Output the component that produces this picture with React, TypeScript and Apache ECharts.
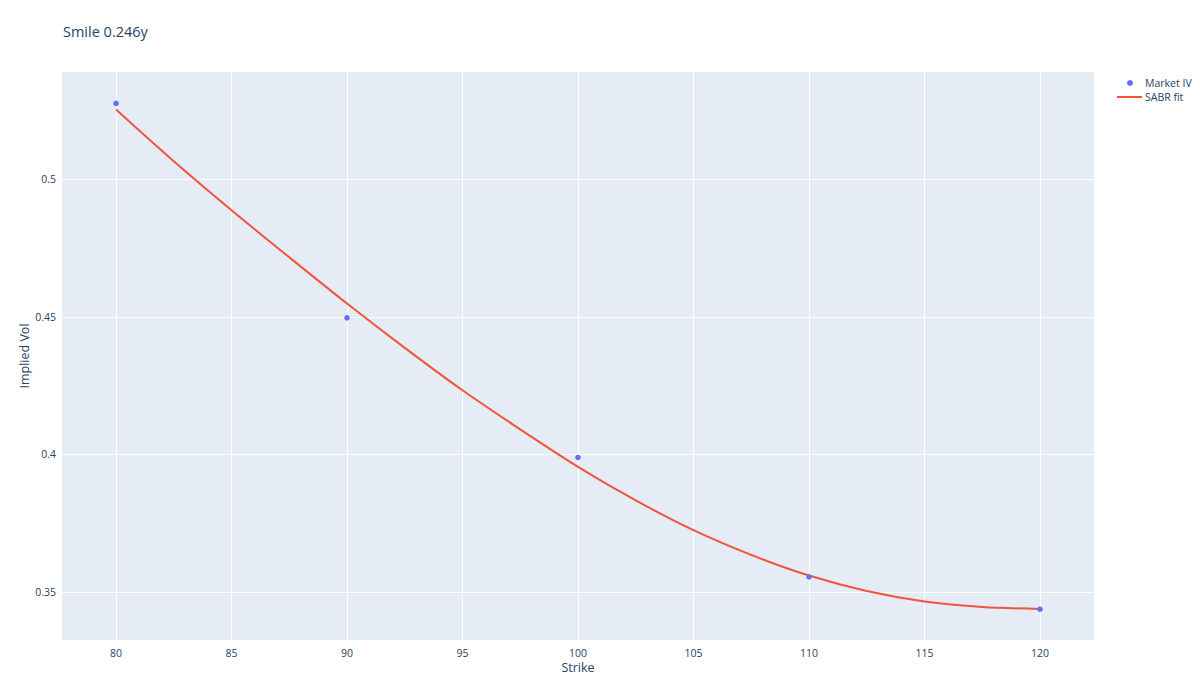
import React, { useEffect, useRef } from "react";
import * as echarts from "echarts";

const marketStrikes = [80, 90, 100, 110, 120];
const marketIV = [0.5275, 0.4496, 0.3989, 0.3555, 0.3438];

const fitStrikes = [80, 82.5, 85, 87.5, 90, 92.5, 95, 97.5, 100, 102.5, 105, 107.5, 110, 112.5, 115, 117.5, 120];
const fitIV = [0.5253, 0.5065, 0.4887, 0.4716, 0.4548, 0.4387, 0.4233, 0.4091, 0.3955, 0.3833, 0.3725, 0.3635, 0.3560, 0.3504, 0.3466, 0.3446, 0.3439];

const xTicks = [80, 85, 90, 95, 100, 105, 110, 115, 120];
const yTicks = [0.35, 0.4, 0.45, 0.5];

const legendNames = ["Market IV", "SABR fit"];

const FONT = '"Open Sans", verdana, arial, sans-serif';
const TXT = "#2a3f5f";

export default function App() {
  const ref = useRef<HTMLDivElement>(null);
  useEffect(() => {
    document.body.style.margin = "0";
    const chart = echarts.init(ref.current!, null, { renderer: "svg" });
    chart.setOption({
      animation: false,
      backgroundColor: "#fff",
      textStyle: { fontFamily: FONT },
      title: {
        text: "Smile 0.246y",
        left: 58,
        top: 19,
        textStyle: { fontFamily: FONT, fontSize: 14.5, fontWeight: "normal", color: TXT },
      },
      graphic: [
        { type: "circle", shape: { cx: 1130, cy: 83, r: 3 }, style: { fill: "#636efa" } },
        {
          type: "text",
          x: 1145,
          y: 83,
          style: { text: legendNames[0], fill: TXT, font: `10.5px ${FONT}`, verticalAlign: "middle" },
        },
        {
          type: "line",
          shape: { x1: 1117, y1: 97, x2: 1142, y2: 97 },
          style: { stroke: "#EF553B", lineWidth: 2 },
        },
        {
          type: "text",
          x: 1145,
          y: 97,
          style: { text: legendNames[1], fill: TXT, font: `10.5px ${FONT}`, verticalAlign: "middle" },
        },
      ],
      grid: {
        left: 62,
        top: 72,
        width: 1032,
        height: 568,
        show: true,
        backgroundColor: "#E5ECF6",
        borderWidth: 0,
      },
      xAxis: {
        type: "value",
        min: 77.66,
        max: 122.34,
        name: "Strike",
        nameLocation: "middle",
        nameGap: 21,
        nameMoveOverlap: false,
        nameTextStyle: { fontFamily: FONT, fontSize: 12.5, color: TXT },
        axisLine: { show: false },
        axisTick: { show: false, customValues: xTicks },
        axisLabel: { customValues: xTicks, fontFamily: FONT, fontSize: 10.5, color: TXT, margin: 7 },
        splitLine: { show: true, lineStyle: { color: "#fff", width: 1 } },
      },
      yAxis: {
        type: "value",
        min: 0.3326,
        max: 0.5389,
        name: "Implied Vol",
        nameLocation: "middle",
        nameGap: 31,
        nameMoveOverlap: false,
        nameRotate: 90,
        nameTextStyle: { fontFamily: FONT, fontSize: 12.5, color: TXT },
        axisLine: { show: false },
        axisTick: { show: false, customValues: yTicks },
        axisLabel: { customValues: yTicks, fontFamily: FONT, fontSize: 10.5, color: TXT, margin: 6 },
        splitLine: { show: true, lineStyle: { color: "#fff", width: 1 } },
      },
      series: [
        {
          name: legendNames[0],
          type: "scatter",
          symbol: "circle",
          symbolSize: 5.5,
          itemStyle: { color: "#636efa", opacity: 1 },
          data: marketStrikes.map((k, i) => [k, marketIV[i]]),
          z: 3,
        },
        {
          name: legendNames[1],
          type: "line",
          symbol: "none",
          smooth: 0.3,
          lineStyle: { color: "#EF553B", width: 2 },
          itemStyle: { color: "#EF553B" },
          data: fitStrikes.map((k, i) => [k, fitIV[i]]),
          z: 2,
        },
      ],
    });
    return () => chart.dispose();
  }, []);
  return <div ref={ref} style={{ width: 1200, height: 691 }} />;
}
